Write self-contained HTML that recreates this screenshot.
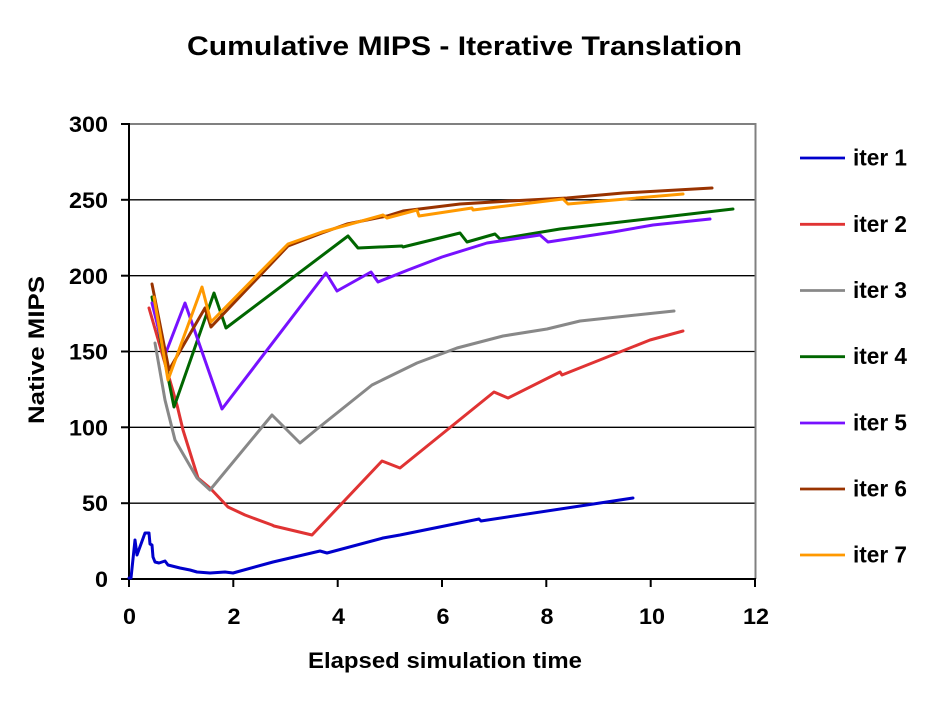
<!DOCTYPE html>
<html><head><meta charset="utf-8"><style>
html,body{margin:0;padding:0;background:#fff;}
svg{display:block;}
text{font-family:"Liberation Sans",Arial,sans-serif;font-weight:bold;fill:#000;}
</style></head><body>
<svg width="932" height="704" viewBox="0 0 932 704" xmlns="http://www.w3.org/2000/svg">
<rect width="932" height="704" fill="#fff"/>
<text x="187" y="55" font-size="27" textLength="555" lengthAdjust="spacingAndGlyphs">Cumulative MIPS - Iterative Translation</text>
<!-- grid -->
<g stroke="#000" stroke-width="1.3">
<line x1="129" y1="503.2" x2="755" y2="503.2"/>
<line x1="129" y1="427.3" x2="755" y2="427.3"/>
<line x1="129" y1="351.5" x2="755" y2="351.5"/>
<line x1="129" y1="275.7" x2="755" y2="275.7"/>
<line x1="129" y1="199.8" x2="755" y2="199.8"/>
</g>
<g stroke="#808080" stroke-width="2" fill="none">
<polyline points="129,124 755.5,124 755.5,579"/>
</g>
<!-- axes -->
<g stroke="#000" stroke-width="2">
<line x1="129" y1="123" x2="129" y2="580"/>
<line x1="128" y1="579" x2="756" y2="579"/>
<line x1="121" y1="124" x2="129" y2="124"/>
<line x1="121" y1="199.8" x2="129" y2="199.8"/>
<line x1="121" y1="275.7" x2="129" y2="275.7"/>
<line x1="121" y1="351.5" x2="129" y2="351.5"/>
<line x1="121" y1="427.3" x2="129" y2="427.3"/>
<line x1="121" y1="503.2" x2="129" y2="503.2"/>
<line x1="121" y1="579" x2="129" y2="579"/>
<line x1="129" y1="579" x2="129" y2="587"/>
<line x1="233.3" y1="579" x2="233.3" y2="587"/>
<line x1="337.7" y1="579" x2="337.7" y2="587"/>
<line x1="442" y1="579" x2="442" y2="587"/>
<line x1="546.3" y1="579" x2="546.3" y2="587"/>
<line x1="650.7" y1="579" x2="650.7" y2="587"/>
<line x1="755" y1="579" x2="755" y2="587"/>
</g>
<g font-size="22" text-anchor="end" lengthAdjust="spacingAndGlyphs">
<text x="108" y="132" textLength="39" lengthAdjust="spacingAndGlyphs">300</text>
<text x="108" y="208" textLength="39" lengthAdjust="spacingAndGlyphs">250</text>
<text x="108" y="284" textLength="39" lengthAdjust="spacingAndGlyphs">200</text>
<text x="108" y="359.5" textLength="39" lengthAdjust="spacingAndGlyphs">150</text>
<text x="108" y="435.5" textLength="39" lengthAdjust="spacingAndGlyphs">100</text>
<text x="108" y="511" textLength="26" lengthAdjust="spacingAndGlyphs">50</text>
<text x="108" y="587" textLength="13" lengthAdjust="spacingAndGlyphs">0</text>
</g>
<g font-size="22" text-anchor="middle">
<text x="129.5" y="624" textLength="13" lengthAdjust="spacingAndGlyphs">0</text>
<text x="234" y="624" textLength="13" lengthAdjust="spacingAndGlyphs">2</text>
<text x="338.5" y="624" textLength="13" lengthAdjust="spacingAndGlyphs">4</text>
<text x="443" y="624" textLength="13" lengthAdjust="spacingAndGlyphs">6</text>
<text x="547" y="624" textLength="13" lengthAdjust="spacingAndGlyphs">8</text>
<text x="652" y="624" textLength="26" lengthAdjust="spacingAndGlyphs">10</text>
<text x="756" y="624" textLength="26" lengthAdjust="spacingAndGlyphs">12</text>
</g>
<text x="308" y="668" font-size="22" textLength="274" lengthAdjust="spacingAndGlyphs">Elapsed simulation time</text>
<text transform="translate(44,350) rotate(-90)" font-size="22" text-anchor="middle" textLength="148" lengthAdjust="spacingAndGlyphs">Native MIPS</text>
<!-- series -->
<g fill="none" stroke-width="3" stroke-linejoin="round" stroke-linecap="round">
<polyline stroke="#0000CC" points="129,578 131,578 135,540 137,555 145,533 149,533 150,544 152,545 153,557 155,562 159,563 165,561 168,565 180,568 190,570 197,572 210,573 225,572 233,573 273,562 320,551 327,553 383,538 400,535 479,519 481,521 633,498"/>
<polyline stroke="#E03333" points="149,308 177,405 183,430 198,478 210,488 228,507 245,515 253,518 272,525 274,526 312,535 382,461 400,468 494,392 508,398 560,372 562,375 650,340 683,331"/>
<polyline stroke="#888888" points="155,343 165,400 175,440 197,478 210,490 272,415 300,443 317,429 372,385 417,363 457,348 503,336 547,329 580,321 674,311"/>
<polyline stroke="#006600" points="152,297 174,407 214,293 226,328 348,236 358,248 402,246 403,247 460,233 467,242 495,234 500,239 560,229 733,209"/>
<polyline stroke="#7711FF" points="152,303 165,355 185,303 222,409 326,273 337,291 371,272 378,282 408,270 442,257 487,243 540,235 548,242 613,232 653,225 710,219"/>
<polyline stroke="#993300" points="152,284 169,370 205,308 211,327 288,246 322,233 347,224 387,216 403,211 460,204 510,201 567,198 623,193 712,188"/>
<polyline stroke="#FF9900" points="154,297 168,380 202,287 211,322 288,244 322,232 383,215 387,218 417,210 419,216 472,208 473,210 563,199 568,204 683,194"/>
</g>
<!-- legend -->
<g stroke-width="2.8">
<line x1="800" y1="158" x2="845" y2="158" stroke="#0000CC"/>
<line x1="800" y1="224.3" x2="845" y2="224.3" stroke="#E03333"/>
<line x1="800" y1="290.5" x2="845" y2="290.5" stroke="#888888"/>
<line x1="800" y1="356.7" x2="845" y2="356.7" stroke="#006600"/>
<line x1="800" y1="423" x2="845" y2="423" stroke="#7711FF"/>
<line x1="800" y1="489" x2="845" y2="489" stroke="#993300"/>
<line x1="800" y1="555" x2="845" y2="555" stroke="#FF9900"/>
</g>
<g font-size="23">
<text x="853" y="165.5" textLength="54" lengthAdjust="spacingAndGlyphs">iter 1</text>
<text x="853" y="231.8" textLength="54" lengthAdjust="spacingAndGlyphs">iter 2</text>
<text x="853" y="298" textLength="54" lengthAdjust="spacingAndGlyphs">iter 3</text>
<text x="853" y="364.2" textLength="54" lengthAdjust="spacingAndGlyphs">iter 4</text>
<text x="853" y="430.5" textLength="54" lengthAdjust="spacingAndGlyphs">iter 5</text>
<text x="853" y="496.5" textLength="54" lengthAdjust="spacingAndGlyphs">iter 6</text>
<text x="853" y="562.5" textLength="54" lengthAdjust="spacingAndGlyphs">iter 7</text>
</g>
</svg>
</body></html>
